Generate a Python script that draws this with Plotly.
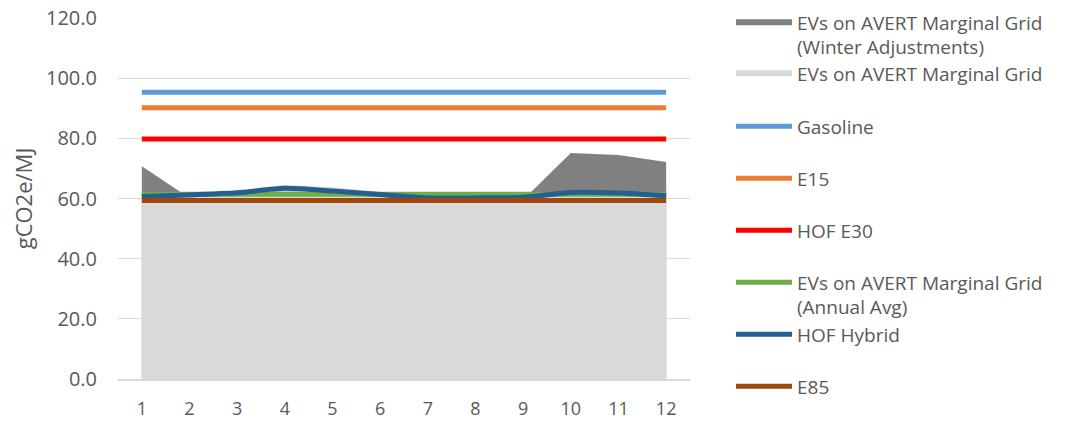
import plotly.graph_objects as go

months = [1, 2, 3, 4, 5, 6, 7, 8, 9, 10, 11, 12]

winter_adj = [70.7, 60.2, 61.9, 64.2, 63.4, 61.9, 60.1, 60.1, 59.6, 75.1, 74.5, 72.1]
marginal_grid = [61.0, 61.3, 62.2, 64.5, 63.7, 62.2, 60.4, 60.4, 60.6, 62.0, 61.8, 61.0]
gasoline = [95.3, 95.3, 95.3, 95.3, 95.3, 95.3, 95.3, 95.3, 95.3, 95.3, 95.3, 95.3]
e15 = [90.2, 90.2, 90.2, 90.2, 90.2, 90.2, 90.2, 90.2, 90.2, 90.2, 90.2, 90.2]
hof_e30 = [79.8, 79.8, 79.8, 79.8, 79.8, 79.8, 79.8, 79.8, 79.8, 79.8, 79.8, 79.8]
annual_avg = [61.4, 61.4, 61.4, 61.4, 61.4, 61.4, 61.4, 61.4, 61.4, 61.4, 61.4, 61.4]
hof_hybrid = [60.7, 61.2, 61.9, 63.4, 62.5, 61.3, 60.2, 60.2, 60.4, 62.0, 61.8, 60.9]
e85 = [59.3, 59.3, 59.3, 59.3, 59.3, 59.3, 59.3, 59.3, 59.3, 59.3, 59.3, 59.3]

y_ticks = [0, 20, 40, 60, 80, 100, 120]

FONT = "Open Sans"
TXT = "#595959"

fig = go.Figure()

fig.add_trace(go.Scatter(x=months, y=winter_adj, mode="none", fill="tozeroy",
                         fillcolor="#808080",
                         name="EVs on AVERT Marginal Grid<br>(Winter Adjustments)",
                         legend="legend"))
fig.add_trace(go.Scatter(x=months, y=marginal_grid, mode="none", fill="tozeroy",
                         fillcolor="#D9D9D9",
                         name="EVs on AVERT Marginal Grid", legend="legend2"))

lines = [
    ("Gasoline", gasoline, "#5B9BD5", "legend3", "linear"),
    ("E15", e15, "#ED7D31", "legend4", "linear"),
    ("HOF E30", hof_e30, "#FF0000", "legend5", "linear"),
    ("EVs on AVERT Marginal Grid<br>(Annual Avg)", annual_avg, "#70AD47", "legend6", "spline"),
    ("HOF Hybrid", hof_hybrid, "#255E91", "legend7", "spline"),
    ("E85", e85, "#9E480E", "legend8", "linear"),
]
for name, vals, color, lg, shape in lines:
    fig.add_trace(go.Scatter(x=months, y=vals, mode="lines", name=name,
                             line=dict(color=color, width=5, shape=shape, smoothing=0.6),
                             legend=lg))

# legend layout
plot_l, plot_r, plot_t, plot_b = 118, 690, 18, 379
ph = plot_b - plot_t
pw = plot_r - plot_l
centers = [22, 73, 126, 178, 230, 282, 334, 386]
legend_x = (731 - plot_l) / pw
legends = {}
for i, c in enumerate(centers):
    key = "legend" if i == 0 else f"legend{i + 1}"
    top_px = c - 18.5
    legends[key] = dict(
        x=legend_x, xanchor="left",
        y=(plot_b - top_px) / ph, yanchor="top",
        font=dict(family=FONT, size=19, color=TXT),
        bgcolor="rgba(0,0,0,0)", borderwidth=0,
        itemwidth=56, valign="top",
    )

fig.update_layout(
    width=1076, height=423,
    margin=dict(l=plot_l, r=1076 - plot_r, t=plot_t, b=423 - plot_b, autoexpand=False),
    paper_bgcolor="white", plot_bgcolor="white",
    font=dict(family=FONT, color=TXT),
    showlegend=True,
    **legends,
)

fig.update_xaxes(
    range=[0.5, 12.5], tickvals=months, ticktext=[str(m) for m in months],
    showgrid=False, zeroline=False, showline=True, linecolor="#D9D9D9", linewidth=1.5,
    ticks="", tickfont=dict(family=FONT, size=18, color=TXT), ticklabelstandoff=13,
)
fig.update_yaxes(
    range=[0, 120], tickvals=y_ticks, tickformat=".1f",
    showgrid=True, gridcolor="#D9D9D9", gridwidth=1.3,
    zeroline=False, showline=False, ticks="",
    tickfont=dict(family=FONT, size=20, color=TXT), ticklabelstandoff=20,
    title=dict(text="gCO2e/MJ", font=dict(family=FONT, size=22, color=TXT), standoff=7),
)

fig.write_html("out.html")
